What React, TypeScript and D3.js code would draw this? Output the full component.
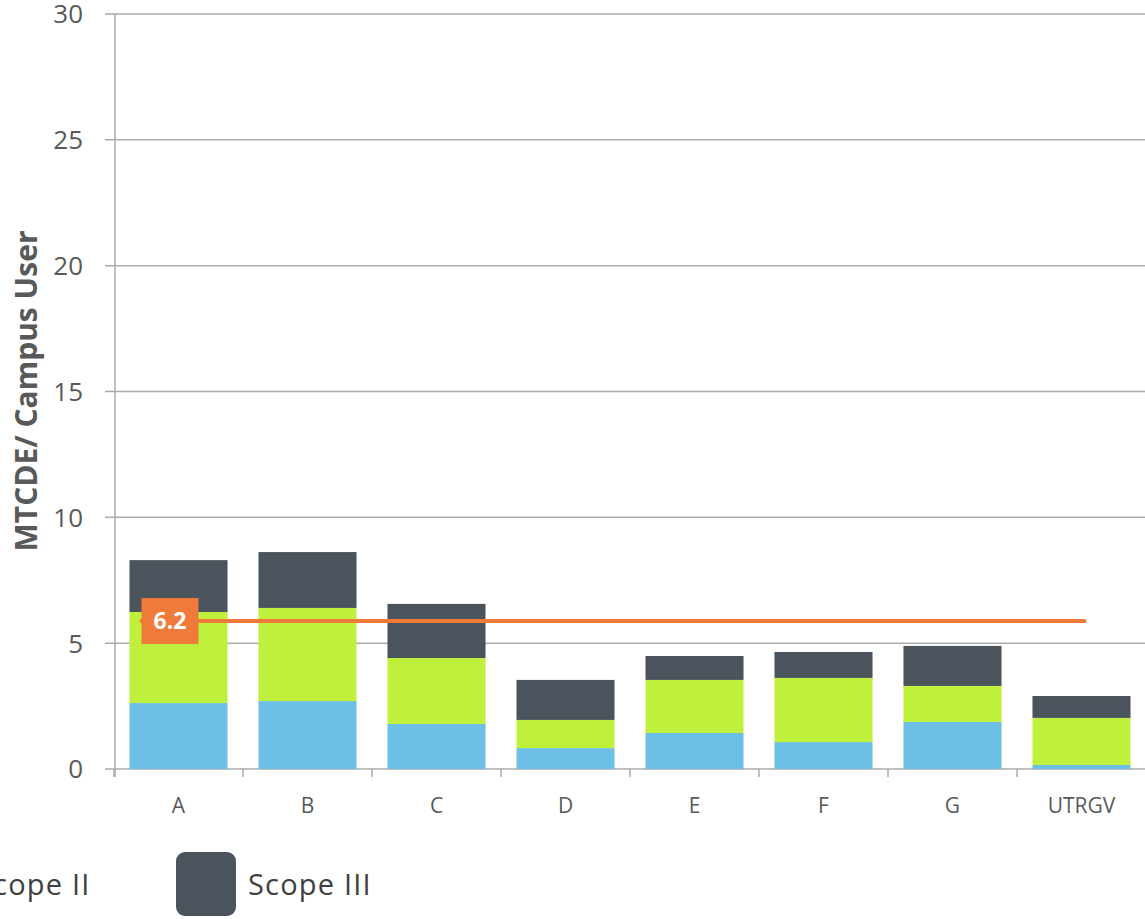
import React from "react";
import * as d3 from "d3";

const categories = ["A", "B", "C", "D", "E", "F", "G", "UTRGV"];
const scope1 = [2.62, 2.7, 1.79, 0.83, 1.43, 1.07, 1.87, 0.16];
const scope2 = [3.62, 3.7, 2.62, 1.12, 2.11, 2.55, 1.43, 1.87];
const scope3 = [2.06, 2.22, 2.15, 1.59, 0.95, 1.03, 1.59, 0.87];
const seriesNames = ["Scope I", "Scope II", "Scope III"];
const seriesColors = ["#6DBFE6", "#BEF03C", "#4B535C"];
const yTicks = [0, 5, 10, 15, 20, 25, 30];
const averageValue = 5.88;
const averageLabel = "6.2";

const W = 1145;
const H = 919;
const FONT = "'Open Sans', 'Noto Sans', sans-serif";

export default function App() {
  const x = d3
    .scaleBand<string>()
    .domain(categories)
    .range([114, 1146])
    .paddingInner(0.24)
    .paddingOuter(0.12);
  const y = d3.scaleLinear().domain([0, 30]).range([769, 14]);

  const rows = categories.map((c, i) => ({
    cat: c,
    s0: scope1[i],
    s1: scope2[i],
    s2: scope3[i],
  }));
  const stack = d3.stack<any>().keys(["s0", "s1", "s2"]);
  const layers = stack(rows);

  const step = x.step();
  const boundaries = categories.map((c) => (x(c) as number) - (step - x.bandwidth()) / 2);
  boundaries.push(boundaries[boundaries.length - 1] + step);

  const firstX = x(categories[0]) as number;
  const lastX = (x(categories[categories.length - 1]) as number) + x.bandwidth();
  const ay = y(averageValue);

  return (
    <div style={{ position: "absolute", left: 0, top: 0 }}>
      <svg width={W} height={H} style={{ display: "block", background: "#fff" }}>
        {/* gridlines */}
        {yTicks.map((t) => (
          <line
            key={"g" + t}
            x1={105}
            x2={W}
            y1={y(t)}
            y2={y(t)}
            stroke="#ababab"
            strokeWidth={1.5}
          />
        ))}
        {/* y axis line */}
        <line x1={115} x2={115} y1={y(30)} y2={y(0) + 8} stroke="#ababab" strokeWidth={1.5} />
        {/* y tick labels */}
        {yTicks.map((t) => (
          <text
            key={"t" + t}
            x={83}
            y={y(t)}
            dy="0.36em"
            textAnchor="end"
            fontFamily={FONT}
            fontSize={26}
            fill="#595959"
          >
            {t}
          </text>
        ))}
        {/* y axis title */}
        <text
          transform={`translate(37,${391}) rotate(-90)`}
          textAnchor="middle"
          fontFamily={FONT}
          fontSize={30}
          fontWeight="bold"
          fill="#595959"
        >
          MTCDE/ Campus User
        </text>
        {/* bars */}
        {layers.map((layer, li) => (
          <g key={"l" + li} fill={seriesColors[li]}>
            {layer.map((d: any, i: number) => (
              <rect
                key={i}
                x={x(categories[i]) as number}
                width={x.bandwidth()}
                y={y(d[1])}
                height={y(d[0]) - y(d[1])}
              />
            ))}
          </g>
        ))}
        {/* category tick marks */}
        {boundaries.map((b, i) => (
          <line key={"b" + i} x1={b} x2={b} y1={y(0)} y2={y(0) + 8} stroke="#ababab" strokeWidth={1.5} />
        ))}
        {/* category labels */}
        {categories.map((c) => (
          <text
            key={"c" + c}
            x={(x(c) as number) + x.bandwidth() / 2}
            y={805}
            dy="0.36em"
            textAnchor="middle"
            fontFamily={FONT}
            fontSize={21}
            fill="#595959"
          >
            {c}
          </text>
        ))}
        {/* average line */}
        <line
          x1={firstX + 12}
          x2={lastX - 46}
          y1={ay}
          y2={ay}
          stroke="#F07A3A"
          strokeWidth={4}
          strokeLinecap="round"
        />
        <rect x={firstX + 12} y={ay - 23} width={57} height={46} fill="#F07A3A" />
        <text
          x={firstX + 12 + 28.5}
          y={ay}
          dy="0.36em"
          textAnchor="middle"
          fontFamily={FONT}
          fontSize={23}
          fontWeight="bold"
          fill="#fff"
        >
          {averageLabel}
        </text>
        {/* legend */}
        {seriesNames.map((n, i) => {
          const lx = 176 - (2 - i) * 272;
          return (
            <g key={"lg" + i} transform={`translate(${lx},852)`}>
              <rect width={60} height={64} rx={9} fill={seriesColors[i]} />
              <text
                x={72}
                y={33}
                dy="0.35em"
                fontFamily={FONT}
                fontSize={29}
                letterSpacing={1.2}
                fill="#404040"
              >
                {n}
              </text>
            </g>
          );
        })}
      </svg>
    </div>
  );
}
